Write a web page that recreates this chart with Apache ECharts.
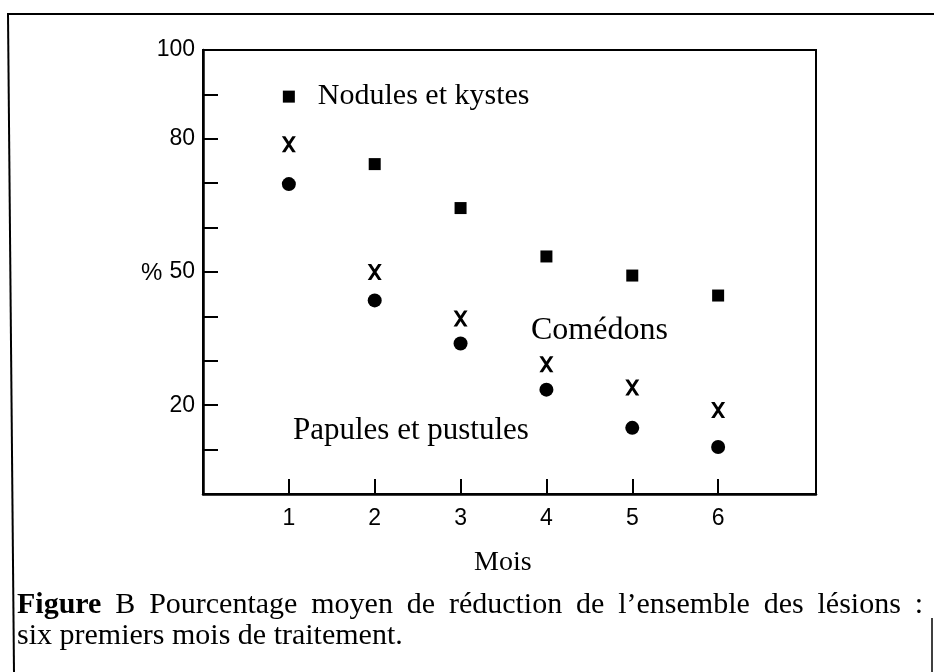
<!DOCTYPE html>
<html><head><meta charset="utf-8">
<script src="https://cdn.jsdelivr.net/npm/echarts@6/dist/echarts.min.js"></script>
<style>html,body{margin:0;padding:0;background:#fff}#c{width:934px;height:672px}</style>
</head><body><div id="c"></div>
<script>
const months = [1, 2, 3, 4, 5, 6];
const nodulesKystes = [89.5, 74.3, 64.4, 53.5, 49.2, 44.7];
const comedons = [78.8, 50.0, 39.5, 29.2, 24.0, 18.9];
const papulesPustules = [69.8, 43.6, 33.9, 23.5, 14.9, 10.6];
const yTickLabels = [20, 50, 80, 100];
const xTickLabels = [1, 2, 3, 4, 5, 6];
const seriesNames = ['Nodules et kystes', 'Comédons', 'Papules et pustules'];
const axisTitleY = '%';
const axisTitleX = 'Mois';
const captionBold = 'Figure';
const captionLine1 = 'B Pourcentage moyen de réduction de l\u2019ensemble des lésions :';
const captionLine2 = 'six premiers mois de traitement.';

const SERIF = '"Liberation Serif", "DejaVu Serif", serif';
const SANS = '"Liberation Sans", Arial, sans-serif';
const X_PATH = 'path://M0,0L3,0L12,14L9,14Z M9,0L12,0L3,14L0,14Z';

const pair = arr => months.map((m, i) => [m, arr[i]]);

// justified first caption line
const ctx = document.createElement('canvas').getContext('2d');
const capFont = '30px ' + SERIF;
const capBoldFont = 'bold 30px ' + SERIF;
const words = [{t: captionBold, f: capBoldFont}].concat(captionLine1.split(' ').map(t => ({t, f: capFont})));
let total = 0;
words.forEach(w => { ctx.font = w.f; w.w = ctx.measureText(w.t).width; total += w.w; });
const lineL = 17, lineR = 923;
const gap = (lineR - lineL - total) / (words.length - 1);
let cx = lineL;
const captionGraphics = words.map(w => {
  const g = {type: 'text', x: cx, y: 590, style: {text: w.t, font: w.f, fill: '#000'}};
  cx += w.w + gap;
  return g;
});

const solid = {color: '#000', opacity: 1};

const chart = echarts.init(document.getElementById('c'), null, {renderer: 'canvas'});
chart.setOption({
  animation: false,
  backgroundColor: '#fff',
  grid: {left: 203, top: 50, right: 118, bottom: 178, show: true, borderColor: '#000', borderWidth: 2, backgroundColor: 'transparent'},
  xAxis: {
    type: 'value', min: 0, max: 7.14, interval: 1,
    axisLine: {show: true, onZero: false, lineStyle: {color: '#000', width: 2.5}},
    axisTick: {show: true, inside: true, length: 15, lineStyle: {color: '#000', width: 2}, customValues: xTickLabels},
    axisLabel: {customValues: xTickLabels, color: '#000', fontFamily: SANS, fontSize: 23, margin: 13},
    splitLine: {show: false}
  },
  yAxis: {
    type: 'value', min: 0, max: 100, interval: 10,
    axisLine: {show: true, onZero: false, lineStyle: {color: '#000', width: 2.5}},
    axisTick: {show: true, inside: true, length: 15, lineStyle: {color: '#000', width: 2}},
    axisLabel: {color: '#000', fontFamily: SANS, fontSize: 23, margin: 8,
      formatter: v => yTickLabels.includes(v) ? String(v) : ''},
    splitLine: {show: false}
  },
  series: [
    {
      name: seriesNames[0], type: 'scatter', symbol: 'rect', symbolSize: 12,
      itemStyle: solid, data: pair(nodulesKystes),
      label: {show: true, position: 'right', distance: 23, color: '#000', opacity: 1, fontFamily: SERIF, fontSize: 30,
        formatter: p => p.dataIndex === 0 ? p.seriesName : ''}
    },
    {
      name: seriesNames[1], type: 'scatter', symbol: X_PATH, symbolSize: [14, 16],
      itemStyle: solid, data: pair(comedons)
    },
    {
      name: seriesNames[2], type: 'scatter', symbol: 'circle', symbolSize: 14,
      itemStyle: solid, data: pair(papulesPustules)
    }
  ],
  graphic: [
    {type: 'text', left: 141, top: 261, style: {text: axisTitleY, font: '24px ' + SANS, fill: '#000'}},
    {type: 'text', left: 474, top: 549, style: {text: axisTitleX, font: '28px ' + SERIF, fill: '#000'}},
    {type: 'text', left: 531, top: 315, style: {text: seriesNames[1], font: '32px ' + SERIF, fill: '#000'}},
    {type: 'text', left: 293, top: 415, style: {text: seriesNames[2], font: '31px ' + SERIF, fill: '#000'}},
    {type: 'text', left: 17, top: 621, style: {text: captionLine2, font: capFont, fill: '#000'}},
    {type: 'line', shape: {x1: 7, y1: 14, x2: 934, y2: 14}, style: {stroke: '#000', lineWidth: 2}},
    {type: 'line', shape: {x1: 8, y1: 14, x2: 14, y2: 672}, style: {stroke: '#000', lineWidth: 2}},
    {type: 'line', shape: {x1: 932, y1: 618, x2: 932, y2: 672}, style: {stroke: '#000', lineWidth: 1.5}}
  ].concat(captionGraphics)
});
</script>
</body></html>
